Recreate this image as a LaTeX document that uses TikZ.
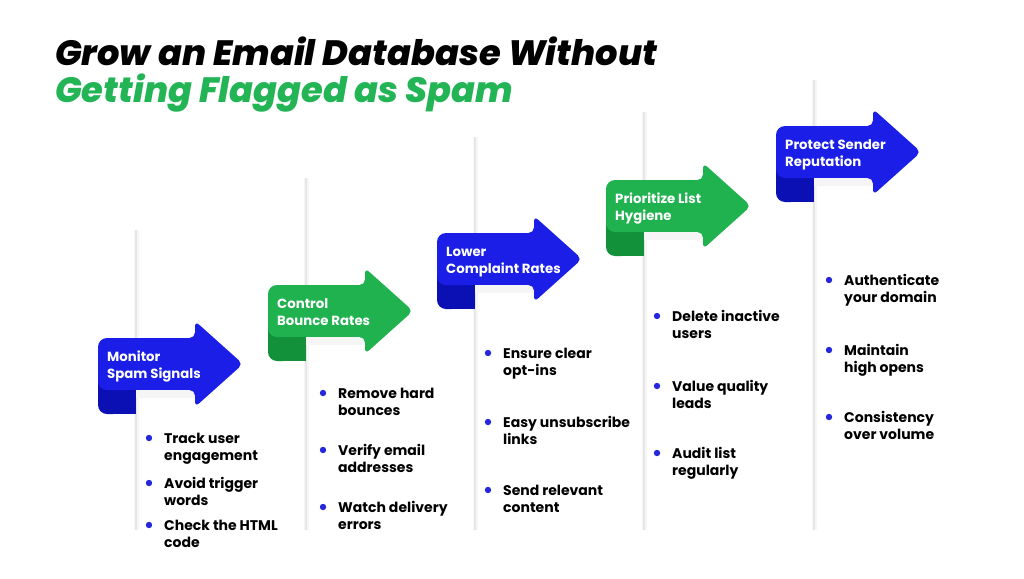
\documentclass[tikz,border=0pt]{standalone}
\usepackage{fontspec}
\setmainfont{Poppins}
\IfFontExistsTF{Poppins ExtraBold Italic}
  {\newfontfamily\titlefont{Poppins ExtraBold Italic}\def\titlesize{35.2}}
  {\newfontfamily\titlefont{Poppins}[UprightFont=*-BoldItalic]\def\titlesize{36.2}}
\definecolor{stepblue}{HTML}{1A1EE6}
\definecolor{stepbluedark}{HTML}{0B10B4}
\definecolor{stepgreen}{HTML}{20B24F}
\definecolor{stepgreendark}{HTML}{12903A}
\definecolor{titlegreen}{HTML}{22B455}
\definecolor{dotblue}{HTML}{2626DC}
\definecolor{panelline}{HTML}{E6E6E6}
\definecolor{panelhalo}{HTML}{F6F6F6}
\definecolor{softshadow}{HTML}{F5F5F5}
\newcommand\ml[1]{\begin{tabular}[t]{@{}l@{}}#1\end{tabular}}
% #1 name, #2 L, #3 T, #4 colour, #5 dark colour, #6 label, #7 panel line top
\newcommand\arrowstep[7]{%
  \draw[panelhalo, line width=5pt] (#2+38,#7) -- (#2+38,530);
  \draw[panelline, line width=1.4pt] (#2+38,#7) -- (#2+38,530);
  \fill[softshadow] (#2+38,#3+52) rectangle (#2+100,#3+60);
  \fill[#5, rounded corners=9pt] (#2,#3+30) rectangle (#2+24,#3+76);
  \fill[#5] (#2+12,#3+30) rectangle (#2+38,#3+76);
  \fill[#4, rounded corners=9pt] (#2,#3) rectangle (#2+40,#3+52);
  \fill[#4] (#2+20,#3) rectangle (#2+98,#3+52);
  \fill[#4, rounded corners=5.5pt] (#2+88,#3) -- (#2+97,#3) -- (#2+97,#3-17)
     -- (#2+145,#3+26) -- (#2+97,#3+69) -- (#2+97,#3+52) -- (#2+88,#3+52) -- cycle;
  \node[steplabel] (#1) at (#2+9,#3+23) {\ml{#6}};
}
% #1 name, #2 text x, #3 baseline y, #4 text
\newcommand\bulletitem[4]{%
  \fill[dotblue] (#2-15,#3-5) circle (3.2pt);
  \node[bullettext] (#1) at (#2,#3) {\ml{#4}};
}
\begin{document}
\begin{tikzpicture}[x=1pt,y=-1pt,
  steplabel/.style={anchor=base west, inner sep=0pt, text=white,
    font=\fontsize{13.3}{17}\selectfont\bfseries},
  bullettext/.style={anchor=base west, inner sep=0pt, text=black,
    font=\fontsize{14}{17.5}\selectfont\bfseries},
  titletext/.style={anchor=base west, inner sep=0pt,
    font=\fontsize{\titlesize}{40}\selectfont\titlefont}]
\useasboundingbox (0,0) rectangle (1024,578);
\fill[white] (0,0) rectangle (1024,578);

\node[titletext, text=black] (t1) at (55,66) {Grow an Email Database Without};
\node[titletext, text=titlegreen] (t2) at (55,102) {Getting Flagged as Spam};

\arrowstep{a1}{98}{338}{stepblue}{stepbluedark}{Monitor\\Spam Signals}{230}
\arrowstep{a2}{268}{285}{stepgreen}{stepgreendark}{Control\\Bounce Rates}{178}
\arrowstep{a3}{437}{233}{stepblue}{stepbluedark}{Lower\\Complaint Rates}{137}
\arrowstep{a4}{606}{180}{stepgreen}{stepgreendark}{Prioritize List\\Hygiene}{112}
\arrowstep{a5}{776}{126}{stepblue}{stepbluedark}{Protect Sender\\Reputation}{80}

\bulletitem{b11}{164}{443}{Track user\\engagement}
\bulletitem{b12}{164}{488}{Avoid trigger\\words}
\bulletitem{b13}{164}{530}{Check the HTML\\code}

\bulletitem{b21}{338}{398}{Remove hard\\bounces}
\bulletitem{b22}{338}{455}{Verify email\\addresses}
\bulletitem{b23}{338}{512}{Watch delivery\\errors}

\bulletitem{b31}{503}{358}{Ensure clear\\opt-ins}
\bulletitem{b32}{503}{427}{Easy unsubscribe\\links}
\bulletitem{b33}{503}{495}{Send relevant\\content}

\bulletitem{b41}{672}{321}{Delete inactive\\users}
\bulletitem{b42}{672}{391}{Value quality\\leads}
\bulletitem{b43}{672}{458}{Audit list\\regularly}

\bulletitem{b51}{844}{285}{Authenticate\\your domain}
\bulletitem{b52}{844}{355}{Maintain\\high opens}
\bulletitem{b53}{844}{422}{Consistency\\over volume}
\end{tikzpicture}
\end{document}
